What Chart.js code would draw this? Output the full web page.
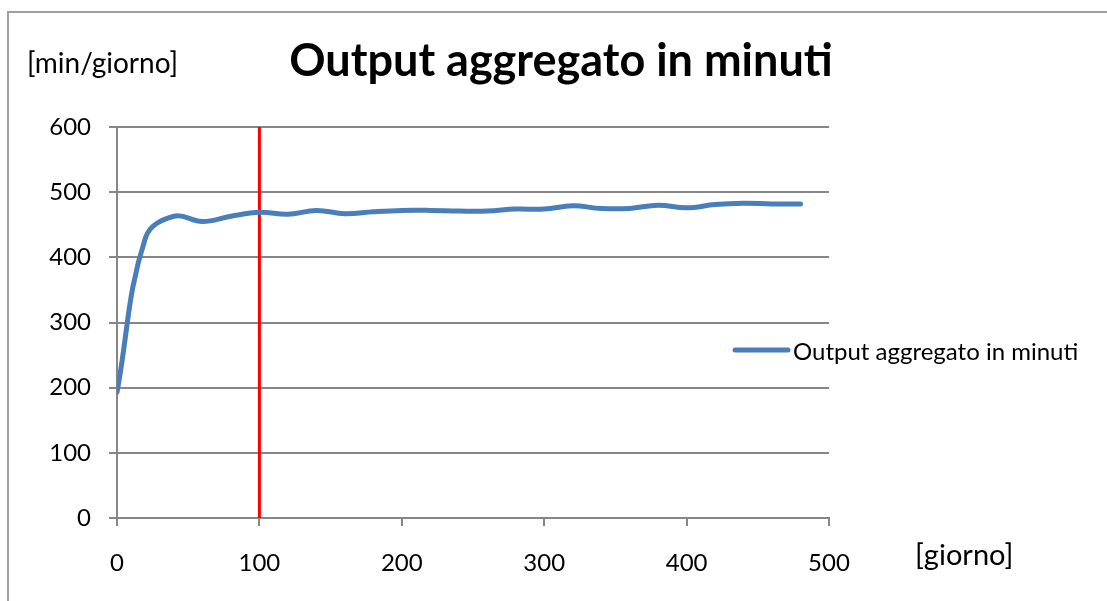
<!DOCTYPE html>
<html>
<head>
<meta charset="utf-8">
<script src="https://cdn.jsdelivr.net/npm/chart.js@4"></script>
<style>
  html, body { margin: 0; padding: 0; background: #fff; }
  #wrap { width: 1107px; height: 601px; position: relative; }
</style>
</head>
<body>
<div id="wrap"><canvas id="chart" width="1107" height="601"></canvas></div>
<script>
const days = [0, 20, 40, 60, 80, 100, 120, 140, 160, 180, 200, 220, 240,
  260, 280, 300, 320, 340, 360, 380, 400, 420, 440, 460, 480];
const output = [193, 430, 463, 455, 463, 469, 466, 472, 467, 470, 472, 472, 471,
  471, 474, 474, 479, 475, 475, 480, 476, 481, 483, 482, 482];
const markerDay = 100;
const yRange = [0, 600];

const titleText = "Output aggregato in minuti";
const seriesLabel = "Output aggregato in minuti";
const yUnit = "[min/giorno]";
const xUnit = "[giorno]";

const FONT = "Lato, 'Liberation Sans', sans-serif";
const GRID = "#868686";

// frame, title, unit labels and the legend drawn by hand
const decor = {
  id: "decor",
  afterDraw(chart) {
    const ctx = chart.ctx;
    ctx.save();
    ctx.strokeStyle = "#a0a0a0";
    ctx.lineWidth = 2;
    ctx.strokeRect(8, 12, 1200, 700);

    ctx.fillStyle = "#000";
    ctx.textBaseline = "alphabetic";
    ctx.textAlign = "center";
    ctx.font = "bold 45px " + FONT;
    ctx.fillText(titleText, 561, 76);

    ctx.textAlign = "left";
    ctx.font = "28px " + FONT;
    ctx.fillText(yUnit, 27, 73);
    ctx.font = "29px " + FONT;
    ctx.fillText(xUnit, 915, 565);

    // legend
    const ds = chart.data.datasets[0];
    ctx.strokeStyle = ds.borderColor;
    ctx.lineWidth = 5;
    ctx.lineCap = "round";
    ctx.beginPath();
    ctx.moveTo(735, 350);
    ctx.lineTo(788, 350);
    ctx.stroke();
    ctx.font = "24px " + FONT;
    ctx.textBaseline = "middle";
    ctx.fillText(ds.label, 793, 352);
    ctx.restore();
  }
};

new Chart(document.getElementById("chart"), {
  type: "line",
  data: {
    datasets: [
      {
        label: seriesLabel,
        data: days.map((d, i) => ({ x: d, y: output[i] })),
        borderColor: "#4A7EBB",
        borderWidth: 5,
        pointRadius: 0,
        tension: 0.4,
        borderCapStyle: "round",
        fill: false
      },
      {
        label: "marker",
        data: [{ x: markerDay, y: yRange[0] }, { x: markerDay, y: yRange[1] }],
        borderColor: "#FF0000",
        borderWidth: 3,
        pointRadius: 0,
        fill: false
      }
    ]
  },
  options: {
    responsive: false,
    animation: false,
    layout: { padding: { top: 127, right: 278, left: 0, bottom: 0 } },
    plugins: {
      legend: { display: false },
      tooltip: { enabled: false }
    },
    scales: {
      x: {
        type: "linear",
        min: 0,
        max: 500,
        afterFit: (s) => { s.height = 83; },
        ticks: {
          stepSize: 100,
          color: "#000",
          font: { family: FONT, size: 24 },
          padding: 23
        },
        grid: {
          drawOnChartArea: false,
          drawTicks: true,
          tickLength: 8,
          color: GRID,
          lineWidth: 2
        },
        border: { color: GRID, width: 2 }
      },
      y: {
        min: yRange[0],
        max: yRange[1],
        afterFit: (s) => { s.width = 117; },
        ticks: {
          stepSize: 100,
          color: "#000",
          font: { family: FONT, size: 24 },
          padding: 18
        },
        grid: {
          color: GRID,
          lineWidth: 2,
          tickLength: 8
        },
        border: { color: GRID, width: 2 }
      }
    }
  },
  plugins: [decor]
});
</script>
</body>
</html>
